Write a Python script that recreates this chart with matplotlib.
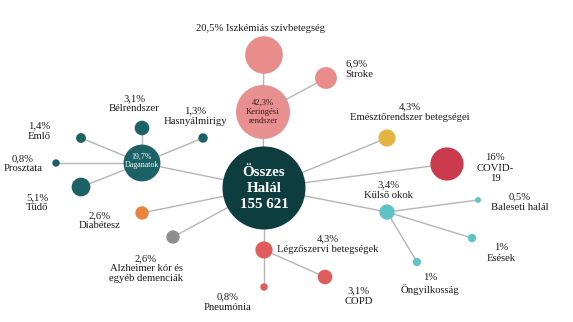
import matplotlib
matplotlib.use("Agg")
import matplotlib.pyplot as plt
import numpy as np

# ---- data ----
names = ["Összes Halál", "Keringési rendszer", "Iszkémiás szívbetegség", "Stroke",
         "Daganatok", "Bélrendszer", "Hasnyálmirigy", "Emlő", "Prosztata", "Tüdő",
         "Emésztőrendszer betegségei", "COVID-19", "Külső okok", "Baleseti halál",
         "Esések", "Öngyilkosság", "Diabétesz", "Alzheimer kór és egyéb demenciák",
         "Légzőszervi betegségek", "COPD", "Pneumónia"]
values = [100, 42.3, 20.5, 6.9, 19.7, 3.1, 1.3, 1.4, 0.8, 5.1,
          4.3, 16, 3.4, 0.5, 1, 1, 2.6, 2.6, 4.3, 3.1, 0.8]
parents = [None, 0, 1, 1, 0, 4, 4, 4, 4, 4, 0, 0, 0, 12, 12, 12, 0, 0, 0, 18, 18]
labels = [None, None, "20,5% Iszkémiás szívbetegség", "6,9%\nStroke",
          None, "3,1%\nBélrendszer", "1,3%\nHasnyálmirigy", "1,4%\nEmlő",
          "0,8%\nProsztata", "5,1%\nTüdő", "4,3%\nEmésztőrendszer betegségei",
          "16%\nCOVID-\n19", "3,4%\nKülső okok", "0,5%\nBaleseti halál",
          "1%\nEsések", "1%\nÖngyilkosság", "2,6%\nDiabétesz",
          "2,6%\nAlzheimer kór és\negyéb demenciák", "4,3%\nLégzőszervi betegségek",
          "3,1%\nCOPD", "0,8%\nPneumónia"]
total_text = "Összes\nHalál\n155 621"
kering_text = "42,3%\nKeringési\nrendszer"
dagan_text = "19,7%\nDaganatok"

# ---- layout (pixel space) ----
node_x = [264, 263, 264, 326, 142, 142, 203, 81, 56, 81, 387, 447, 387, 478, 472, 417, 142, 173, 264, 325, 264]
node_y = [188, 112, 55, 78, 163, 128, 138, 138, 163, 187, 138, 164, 212, 200, 238, 262, 213, 237, 250, 277, 287]
label_x = [None, None, 261, 345, None, 134, 195, 39, 23, 37, 410, 495, 388, 520, 501, 430, 100, 146, 328, 359, 228]
label_y = [None, None, 28, 69, None, 103.5, 116, 131, 163.5, 202.5, 112, 168, 190, 202, 253, 284, 220.5, 268.5, 244, 296, 302]
label_ha = ["center"] * len(names)
label_ha[3] = "left"
colors = ["#0e3d3f", "#e88f8f", "#e88c8c", "#e88c8c",
          "#1b6165", "#1b6165", "#1b6165", "#1b6165", "#1b6165", "#1b6165",
          "#e3b443", "#cc3a4d", "#5ec3c6", "#5ec3c6", "#5ec3c6", "#5ec3c6",
          "#e9833e", "#8e8e8e", "#e05c5c", "#e05c5c", "#e05c5c"]

W, H, DPI = 573, 322, 100
fig = plt.figure(figsize=(W / DPI, H / DPI), dpi=DPI)
ax = fig.add_axes([0, 0, 1, 1])
ax.set_xlim(0, W)
ax.set_ylim(H, 0)
ax.axis("off")

serif = ["Liberation Serif", "DejaVu Serif"]

# edges
for i, p in enumerate(parents):
    if p is None:
        continue
    ax.plot([node_x[p], node_x[i]], [node_y[p], node_y[i]], color="#b5b5b5",
            lw=1.0, zorder=1, solid_capstyle="butt")

# nodes
k = 4.15
vals = np.array(values, dtype=float)
r_px = k * np.sqrt(vals)
sizes = (2 * r_px * 72 / DPI) ** 2
ax.scatter(node_x, node_y, s=sizes, c=colors, linewidths=0, zorder=2)

# labels
for i, lab in enumerate(labels):
    if lab is None:
        continue
    ax.text(label_x[i], label_y[i], lab, ha=label_ha[i], va="center",
            multialignment=label_ha[i], fontsize=7.7, family=serif,
            color="#1a1a1a", linespacing=1.15, zorder=3)

ax.text(node_x[0], node_y[0], total_text, ha="center", va="center",
        fontsize=10.8, fontweight="bold", family=serif, color="white",
        linespacing=1.3, zorder=3)
ax.text(node_x[1], node_y[1], kering_text, ha="center", va="center",
        fontsize=6.2, family=serif, color="#3a1c1c", linespacing=1.2, zorder=3)
ax.text(node_x[4], node_y[4] - 2, dagan_text, ha="center", va="center",
        fontsize=5.7, family=serif, color="white", linespacing=1.15, zorder=3)

fig.savefig("out.png", dpi=DPI)
